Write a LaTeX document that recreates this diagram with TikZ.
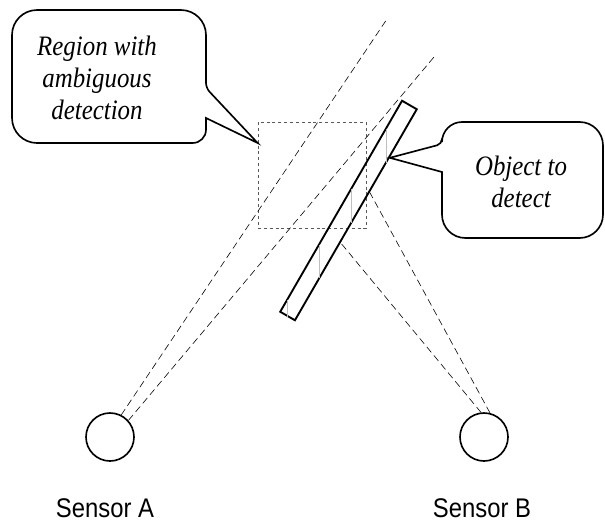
\documentclass[tikz,border=0pt]{standalone}
\usepackage{fontspec}
\setmainfont{Liberation Serif}
\newfontfamily\notefont[FakeStretch=0.885]{Liberation Serif}
\newfontfamily\labelfont[FakeStretch=0.885]{Liberation Sans}
\usetikzlibrary{calc}

\begin{document}
\begin{tikzpicture}[x=0.03cm, y=-0.03cm,
    sensor/.style={draw, circle, line width=1.4pt, minimum size=1.44cm, inner sep=0pt},
    caption/.style={font=\labelfont\fontsize{23}{27}\selectfont},
    note/.style={font=\notefont\itshape\fontsize{24}{27.3}\selectfont, align=center},
    bubble/.style={draw, line width=1.4pt},
    ray/.style={line width=0.5pt, dash pattern=on 6pt off 3.5pt},
    zone/.style={draw, gray!70!black, line width=0.6pt, dash pattern=on 2.5pt off 2.5pt}]
    \useasboundingbox (0,0) rectangle (605,522);

    % sensors
    \node[sensor] (sensorA) at (110,437) {};
    \node[sensor] (sensorB) at (484,437) {};
    \node[caption] (labelA) at (105,508) {Sensor A};
    \node[caption] (labelB) at (482,508) {Sensor B};

    % region and object
    \node[zone, minimum width=3.24cm, minimum height=3.18cm] (region) at (312,175) {};
    \node[draw, line width=1.6pt, rotate=60, minimum width=7.31cm, minimum height=0.51cm] (object) at (348.5,210.5) {};
    \begin{scope}
      \clip (object.south west) -- (object.south east) -- (object.north east) -- (object.north west) -- cycle;
      \foreach \x in {287,319,351,386}
        \draw[gray!50, very thin] (\x,{312-1.7295*(\x-280)}) -- (\x,{320-1.7295*(\x-295)});
    \end{scope}

    % rays
    \coordinate (farA) at (387,19);
    \coordinate (farB) at (434,57);
    \coordinate (hitA) at ($(object.south west)!0.37!(object.south east)$);
    \coordinate (hitB) at ($(object.south west)!0.607!(object.south east)$);
    \draw[ray] (sensorA.63) -- (farA);
    \draw[ray] (sensorA.42) -- (farB);
    \draw[ray] (sensorB.97) -- (hitA);
    \draw[ray] (sensorB.76) -- (hitB);

    % callouts
    \coordinate (regiontip) at ($(region.north west)!0.2!(region.south west)$);
    \coordinate (objecttip) at ($(object.south west)!0.77!(object.south east)$);
    \node[note] (regionnote) at (97,78) {Region with\\ambiguous\\detection};
    \node[note] (objectnote) at (521,182) {Object to\\detect};
    \draw[bubble] (109,10) [rounded corners=0.75cm] -- (206,10) [rounded corners=0.15cm] -- (206,88)
      [sharp corners] -- (regiontip) -- (206,118) [rounded corners=0.4cm] -- (206,143)
      [rounded corners=0.75cm] -- (12,143) -- (12,10) -- cycle;
    \draw[bubble] (522,122) [rounded corners=0.7cm] -- (603,122) -- (603,238) -- (442,238)
      [sharp corners] -- (442,172) -- (objecttip) [rounded corners=0.15cm] -- (442,144)
      [rounded corners=0.6cm] -- (442,122) -- cycle;
  \end{tikzpicture}
\end{document}
